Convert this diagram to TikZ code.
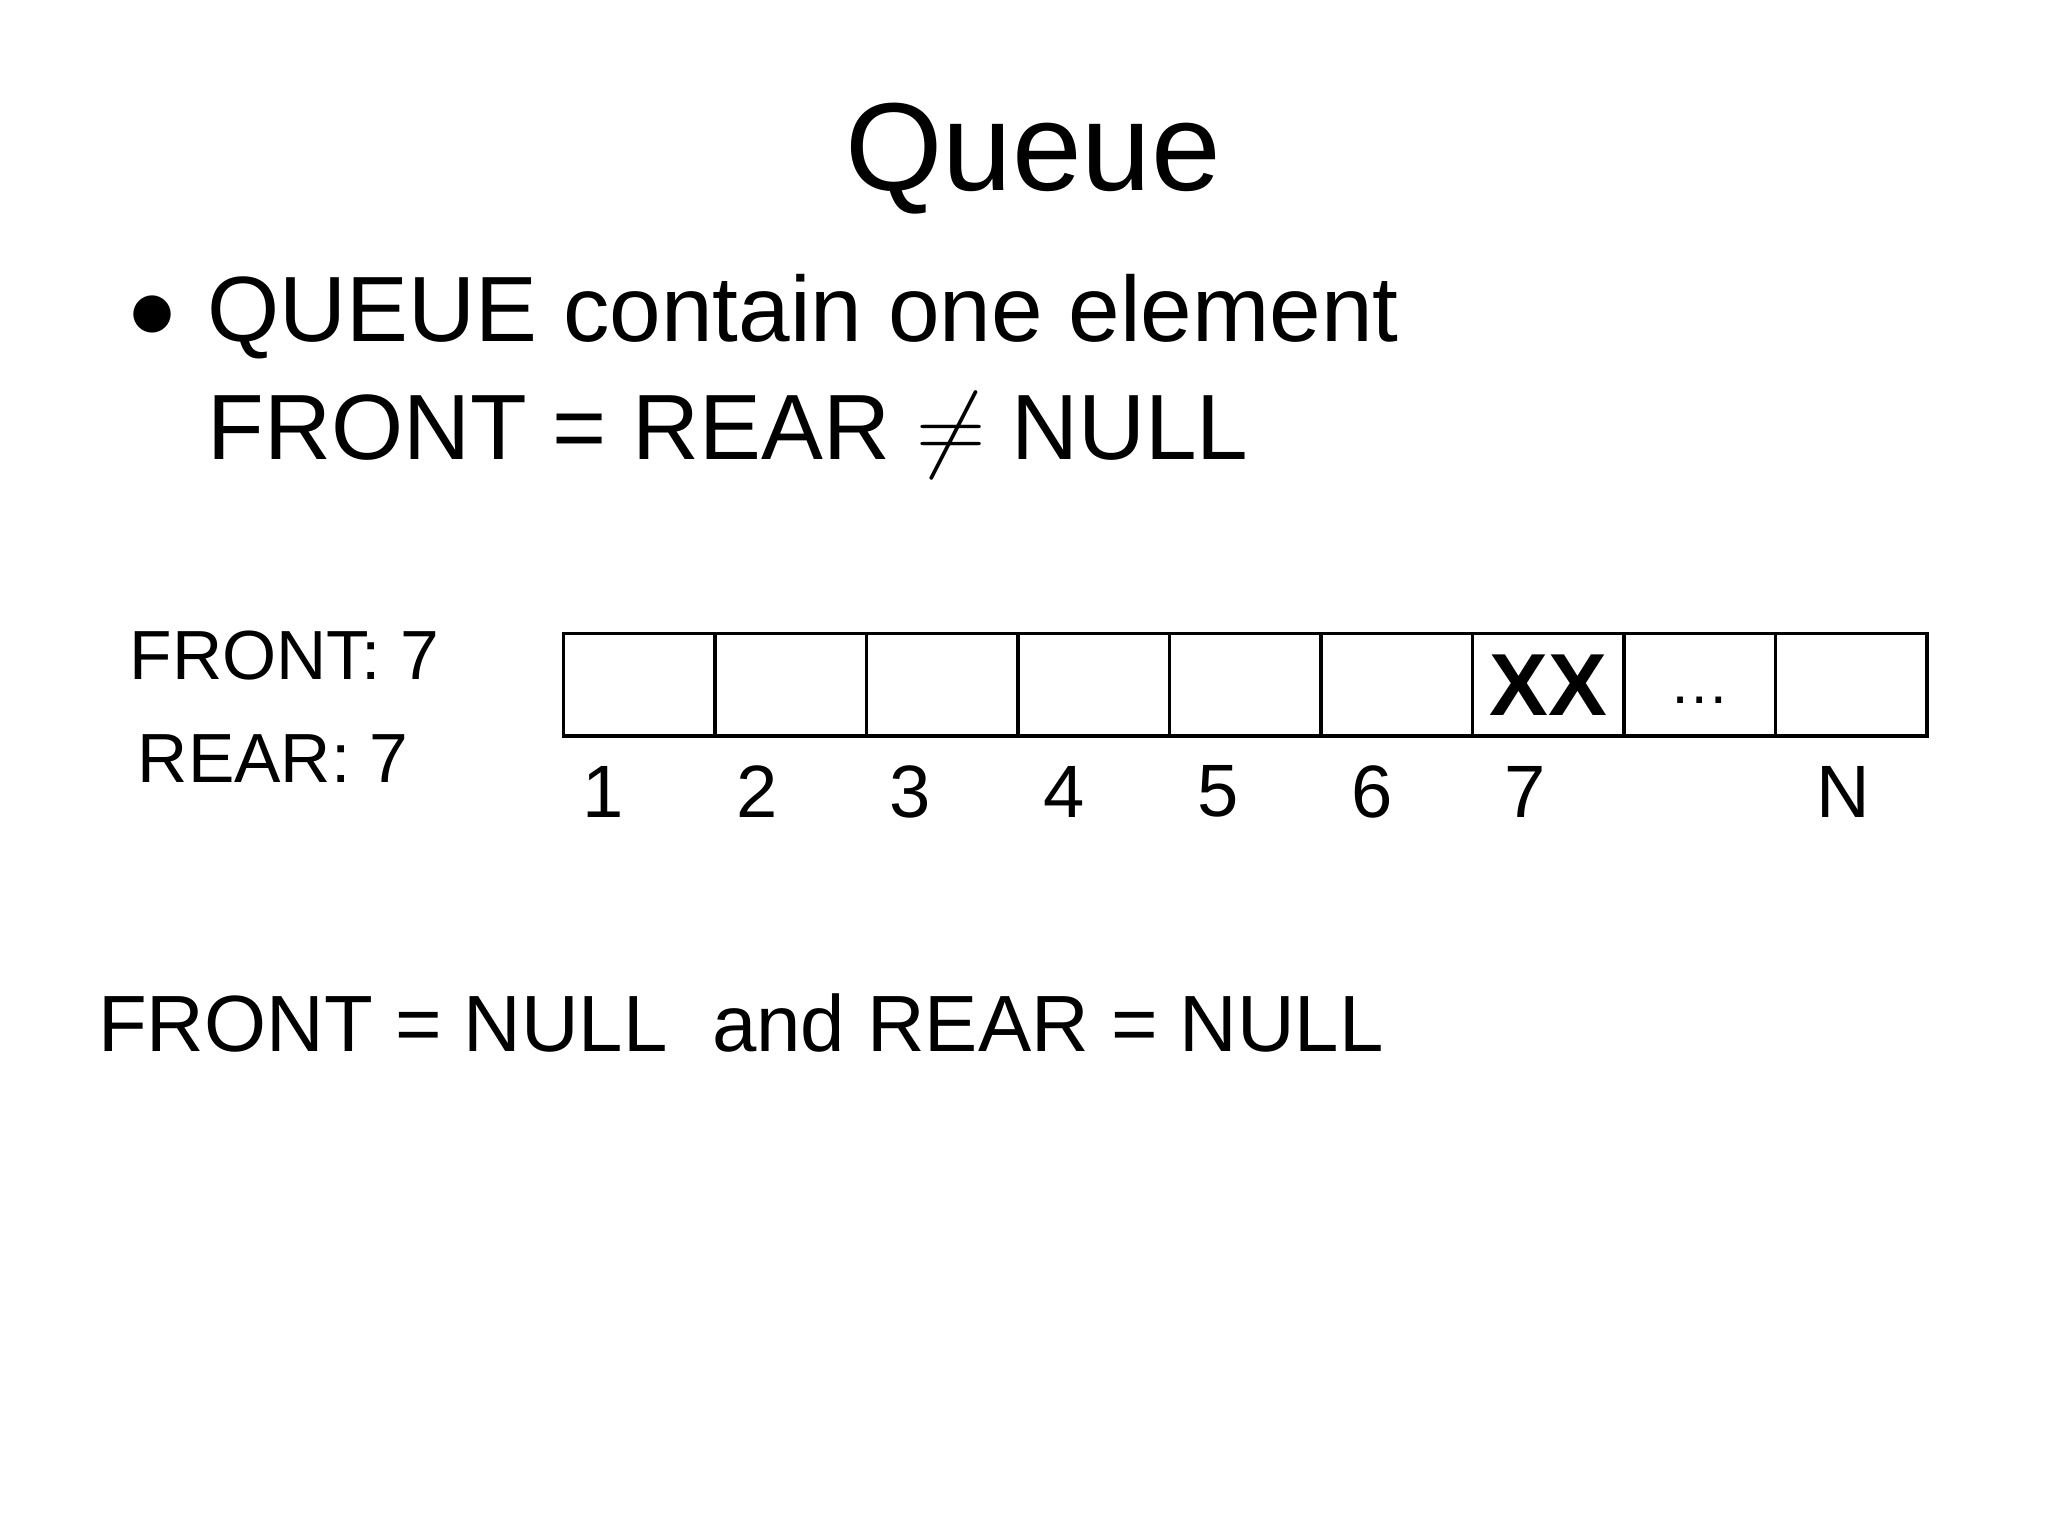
\documentclass[tikz,border=0pt]{standalone}
\usepackage{amsmath}
\usepackage{amssymb}
\usepackage{fontspec}
\setmainfont{Liberation Sans}
\usepackage{tikz}

\begin{document}
\begin{tikzpicture}[x=1cm,y=1cm,
	cellbox/.style={shape=rectangle, draw=black, minimum width=1.148cm, minimum height=0.78cm, inner sep=0pt, line width=0.8pt},
	idx/.style={font=\fontsize{16}{19}\selectfont}]
			\useasboundingbox (0,0) rectangle (15.52,-11.64);
			\node (title) at (7.83,-1.2) {\fontsize{27}{31}\selectfont Queue};
			\node[anchor=west] (bullet) at (0.85,-2.4) {\fontsize{20}{24}\selectfont $\bullet$};
			\node[anchor=west] (line1) at (1.45,-2.4) {\fontsize{20}{24}\selectfont QUEUE contain one element};
			\node[anchor=west] (line2) at (1.45,-3.3) {\fontsize{20}{24}\selectfont FRONT = REAR $\neq$ NULL};
			
			\node[anchor=east] (front) at (3.45,-4.97) {\fontsize{15}{18}\selectfont FRONT: 7};
			\node[anchor=east] (rear) at (3.22,-5.75) {\fontsize{15}{18}\selectfont REAR: 7};
			
			\foreach \i in {1,...,9}
				\node[cellbox] (cell\i) at ({4.27+0.574+(\i-1)*1.148},-5.19) {};
			\node (xx) at (cell7) {\fontsize{19}{22}\selectfont\bfseries XX};
			\node (dots) at ([yshift=-0.12cm]cell8) {\fontsize{13}{15}\selectfont \ldots};
			
			\foreach \i in {1,...,7}
				\node[idx] (idx\i) at ({4.57+(\i-1)*1.165},-6.0) {\i};
			\node[idx] (idxN) at (13.97,-6.0) {N};
			
			\node[anchor=west] (cond) at (0.62,-7.75) {\fontsize{17.2}{21}\selectfont FRONT = NULL \ and REAR = NULL};
		\end{tikzpicture}
\end{document}
